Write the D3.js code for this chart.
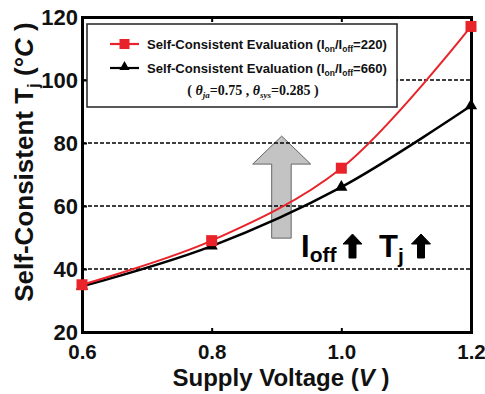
<!DOCTYPE html>
<html><head><meta charset="utf-8">
<script src="https://cdn.jsdelivr.net/npm/d3@7"></script>
<style>body{margin:0;background:#fff}svg{display:block}text{font-family:"Liberation Sans",Arial,sans-serif;font-weight:bold}</style>
</head><body>
<script>
const voltages = [0.6, 0.8, 1.0, 1.2];
const tjRatio220 = [35, 49, 72, 117];
const tjRatio660 = [34.5, 47.3, 66, 91.8];
const xTicks = [0.6, 0.8, 1.0, 1.2];
const yTicks = [20, 40, 60, 80, 100, 120];
const gridValues = [40, 60, 80, 100];

const W = 485, H = 394;
const svg = d3.select("body").append("svg").attr("width", W).attr("height", H);
const x = d3.scaleLinear().domain([0.6, 1.2]).range([82, 471]);
const y = d3.scaleLinear().domain([20, 120]).range([332, 17]);

// block arrow (background)
const cx = x(0.908);
svg.append("path")
  .attr("d", `M${cx},${y(82.2)} L${cx+29},${y(73.3)} L${cx+9.5},${y(73.3)} L${cx+9.5},${y(49.8)} L${cx-10},${y(49.8)} L${cx-10},${y(73.3)} L${cx-29},${y(73.3)} Z`)
  .attr("fill", "#c3c3c3").attr("stroke", "#666").attr("stroke-width", 1);

// gridlines
svg.append("g").selectAll("line").data(gridValues).join("line")
  .attr("x1", x(0.6)).attr("x2", x(1.2))
  .attr("y1", d => y(d)).attr("y2", d => y(d))
  .attr("stroke", "#000").attr("stroke-width", 1.6).attr("stroke-dasharray", "4,2");

// axes (inward ticks)
const xB = d3.axisBottom(x).tickValues(xTicks).tickSize(-4).tickFormat(d3.format(".1f"));
const xT = d3.axisTop(x).tickValues(xTicks).tickSize(-5).tickFormat("");
const yL = d3.axisLeft(y).tickValues(yTicks).tickSize(-5).tickFormat(d3.format("d"));
const yR = d3.axisRight(y).tickValues(yTicks).tickSize(0).tickFormat("");
const gxB = svg.append("g").attr("transform", `translate(0,${y(20)})`).call(xB);
const gxT = svg.append("g").attr("transform", `translate(0,${y(120)})`).call(xT);
const gyL = svg.append("g").attr("transform", `translate(${x(0.6)},0)`).call(yL);
const gyR = svg.append("g").attr("transform", `translate(${x(1.2)},0)`).call(yR);
[gxB, gxT, gyL, gyR].forEach(g => {
  g.select(".domain").attr("stroke", "#000").attr("stroke-width", 3);
  g.selectAll(".tick line").attr("stroke", "#000").attr("stroke-width", 2);
});
gxB.selectAll(".tick text").attr("font-size", 20.5).attr("dy", 0).attr("y", 27).attr("fill", "#111");
gyL.selectAll(".tick text").attr("font-size", 22).attr("x", -4).attr("dy", "0.33em").attr("fill", "#111");

// axis titles
svg.append("text").attr("x", 281).attr("y", 386).attr("text-anchor", "middle").attr("font-size", 24).attr("fill", "#111")
  .html('Supply Voltage (<tspan font-style="italic">V</tspan> )');
const yt = svg.append("text").attr("transform", "translate(33,162) rotate(-90)").attr("text-anchor", "middle").attr("font-size", 26).attr("fill", "#111");
yt.append("tspan").text("Self-Consistent T");
yt.append("tspan").attr("font-size", 17).attr("dy", 6).text("j");
yt.append("tspan").attr("dy", -6).text(" (°");
yt.append("tspan").attr("font-style", "italic").text("C");
yt.append("tspan").text(" )");

// curves
const line = d3.line().x(d => x(d[0])).y(d => y(d[1])).curve(d3.curveCatmullRom.alpha(0.5));
const s220 = voltages.map((v, i) => [v, tjRatio220[i]]);
const s660 = voltages.map((v, i) => [v, tjRatio660[i]]);
svg.append("path").attr("d", line(s660)).attr("fill", "none").attr("stroke", "#000").attr("stroke-width", 2.4);
svg.append("path").attr("d", line(s220)).attr("fill", "none").attr("stroke", "#e8242a").attr("stroke-width", 2);
const tri = d3.symbol().type(d3.symbolTriangle).size(65);
svg.append("g").selectAll("path").data(s660).join("path")
  .attr("transform", d => `translate(${x(d[0])},${y(d[1])})`).attr("d", tri).attr("fill", "#000");
svg.append("g").selectAll("rect").data(s220).join("rect")
  .attr("x", d => x(d[0]) - 5.5).attr("y", d => y(d[1]) - 5.5).attr("width", 11).attr("height", 11).attr("fill", "#e8242a");

// legend
const lg = svg.append("g");
lg.append("rect").attr("x", 87).attr("y", 24).attr("width", 310).attr("height", 83).attr("fill", "#fff").attr("stroke", "#222").attr("stroke-width", 1.5);
const legendItems = [
  {color: "#e8242a", ratio: "220", shape: "square", yy: 44},
  {color: "#000", ratio: "660", shape: "tri", yy: 68}
];
legendItems.forEach(it => {
  lg.append("line").attr("x1", 110).attr("x2", 139).attr("y1", it.yy).attr("y2", it.yy).attr("stroke", it.color).attr("stroke-width", 2.2);
  if (it.shape === "square") lg.append("rect").attr("x", 119.5).attr("y", it.yy - 5).attr("width", 10).attr("height", 10).attr("fill", it.color);
  else lg.append("path").attr("transform", `translate(124.5,${it.yy - 1})`).attr("d", d3.symbol().type(d3.symbolTriangle).size(45)).attr("fill", it.color);
  const t = lg.append("text").attr("x", 147).attr("y", it.yy + 5).attr("font-size", 13.1).attr("fill", "#111");
  t.append("tspan").text("Self-Consistent Evaluation (I");
  t.append("tspan").attr("font-size", 8.5).attr("dy", 3).text("on");
  t.append("tspan").attr("dy", -3).text("/I");
  t.append("tspan").attr("font-size", 8.5).attr("dy", 3).text("off");
  t.append("tspan").attr("dy", -3).text("=" + it.ratio + ")");
});
const th = lg.append("text").attr("x", 253).attr("y", 95).attr("text-anchor", "middle").attr("font-size", 14)
  .style("font-family", '"Liberation Serif","Times New Roman",serif').attr("fill", "#111");
th.append("tspan").text("( ");
th.append("tspan").attr("font-style", "italic").text("θ");
th.append("tspan").attr("font-style", "italic").attr("font-size", 9).attr("dy", 3).text("ja");
th.append("tspan").attr("dy", -3).text("=0.75 , ");
th.append("tspan").attr("font-style", "italic").text("θ");
th.append("tspan").attr("font-style", "italic").attr("font-size", 9).attr("dy", 3).text("sys");
th.append("tspan").attr("dy", -3).text("=0.285 )");

// annotation "Ioff ↑ Tj ↑"
const an = svg.append("g");
an.append("text").attr("x", 301).attr("y", 257).attr("font-size", 31).attr("fill", "#000")
  .html('I<tspan font-size="21" dy="5">off</tspan>');
an.append("text").attr("x", 379).attr("y", 257).attr("font-size", 31).attr("fill", "#000")
  .html('T<tspan font-size="21" dy="6">j</tspan>');
function upArrow(cx, top, bottom) {
  an.append("path").attr("d", `M${cx},${top} L${cx+9.5},${top+10} L${cx+3.5},${top+10} L${cx+3.5},${bottom} L${cx-3.5},${bottom} L${cx-3.5},${top+10} L${cx-9.5},${top+10} Z`)
    .attr("fill", "#000").attr("stroke", "#000").attr("stroke-width", 1).attr("stroke-linejoin", "round");
}
upArrow(352.5, 234, 258);
upArrow(421, 234, 258);
</script>
</body></html>
